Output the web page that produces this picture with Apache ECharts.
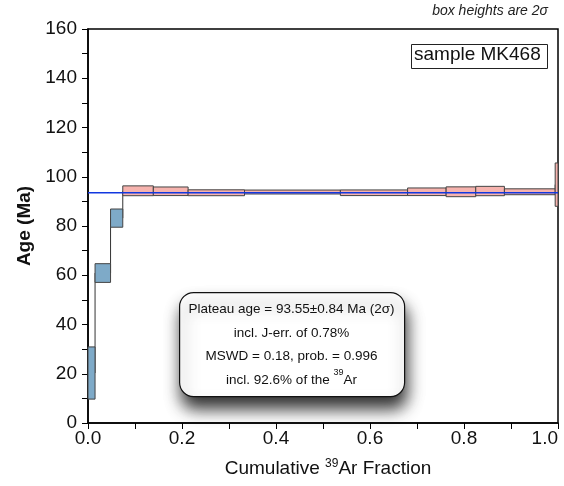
<!DOCTYPE html>
<html>
<head>
<meta charset="utf-8">
<script src="https://cdn.jsdelivr.net/npm/echarts@6/dist/echarts.min.js"></script>
<style>html,body{margin:0;padding:0;background:#fff}#c{width:564px;height:486px}</style>
</head>
<body>
<div id="c"></div>
<script>
// Step boundaries (cumulative 39Ar fraction)
const cumFrac = [0, 0.015, 0.048, 0.074, 0.139, 0.213, 0.333, 0.537, 0.680, 0.762, 0.825, 0.886, 0.994, 1.0];
// Step apparent ages (Ma)
const ages = [20.3, 60.9, 83.2, 94.3, 94.1, 93.5, 93.8, 93.5, 93.9, 93.9, 94.2, 93.9, 96.8];
// 2-sigma errors (Ma)
const err2s = [10.6, 3.8, 3.7, 2.0, 1.75, 1.2, 0.8, 1.15, 1.55, 2.0, 1.9, 1.2, 8.8];
// plateau membership
const inPlateau = [false, false, false, true, true, true, true, true, true, true, true, true, true];
const plateauAge = 93.55;
const xTicks = [0, 0.2, 0.4, 0.6, 0.8, 1.0];
const yTicks = [0, 20, 40, 60, 80, 100, 120, 140, 160];

const FONT = 'Liberation Sans, Arial, sans-serif';
const boxData = ages.map((a, i) => [cumFrac[i], cumFrac[i + 1], a, err2s[i], inPlateau[i] ? 1 : 0]);
const connData = [];
for (let i = 1; i < ages.length; i++) connData.push([cumFrac[i], ages[i - 1], ages[i]]);

const chart = echarts.init(document.getElementById('c'), null, {renderer: 'canvas'});
chart.setOption({
  animation: false,
  backgroundColor: '#fff',
  grid: {left: 88, right: 6, top: 29, bottom: 63, show: true, borderColor: '#000', borderWidth: 1.5,
    backgroundColor: 'transparent', containLabel: false, outerBoundsMode: 'none'},
  xAxis: {
    type: 'value', min: 0, max: 1, interval: 0.1,
    axisLine: {show: true, onZero: false, lineStyle: {color: '#000', width: 1.5}},
    axisTick: {show: true, length: 6, lineStyle: {color: '#000', width: 1}},
    splitLine: {show: false},
    axisLabel: {
      margin: 6, fontSize: 19, color: '#111', fontFamily: FONT, alignMaxLabel: 'right',
      formatter: v => { const r = Math.round(v * 10) / 10; return xTicks.some(t => Math.abs(t - r) < 1e-6) ? r.toFixed(1) : ''; }
    },
    name: '{a|Cumulative }{s|39}{a|Ar Fraction}',
    nameLocation: 'middle', nameGap: 35,
    nameTextStyle: {padding: [0, 0, 0, 10], rich: {
      a: {fontSize: 19, fontFamily: FONT, color: '#111', lineHeight: 22},
      s: {fontSize: 12, fontFamily: FONT, color: '#111', lineHeight: 12, verticalAlign: 'top'}
    }}
  },
  yAxis: {
    type: 'value', min: 0, max: 160, interval: 10,
    axisLine: {show: true, onZero: false, lineStyle: {color: '#000', width: 1.5}},
    axisTick: {show: true, length: 6, lineStyle: {color: '#000', width: 1}},
    splitLine: {show: false},
    axisLabel: {
      margin: 11, fontSize: 19, color: '#111', fontFamily: FONT,
      formatter: v => yTicks.indexOf(Math.round(v)) >= 0 ? String(Math.round(v)) : ''
    },
    name: 'Age (Ma)', nameLocation: 'middle', nameGap: 54, nameRotate: 90,
    nameTextStyle: {fontSize: 19, fontWeight: 'bold', fontFamily: FONT, color: '#111'}
  },
  series: [
    {
      type: 'custom', z: 1, data: connData,
      renderItem: (params, api) => {
        const p1 = api.coord([api.value(0), api.value(1)]);
        const p2 = api.coord([api.value(0), api.value(2)]);
        return {type: 'line', shape: {x1: p1[0], y1: p1[1], x2: p2[0], y2: p2[1]}, style: {stroke: '#333', lineWidth: 1}};
      }
    },
    {
      type: 'custom', z: 2, data: boxData,
      renderItem: (params, api) => {
        const a = api.value(2), e = api.value(3);
        const p1 = api.coord([api.value(0), a + e]);
        const p2 = api.coord([api.value(1), a - e]);
        const pl = api.value(4) === 1;
        return {type: 'rect', shape: {x: p1[0], y: p1[1], width: p2[0] - p1[0], height: p2[1] - p1[1]},
          style: {fill: pl ? '#f6b3ae' : '#7eaac8', stroke: '#444', lineWidth: 1}};
      }
    },
    {
      type: 'line', z: 3, symbol: 'none', silent: true,
      data: [[0, plateauAge], [1, plateauAge]],
      lineStyle: {color: '#1238e0', width: 1.5}
    }
  ],
  graphic: [
    {type: 'text', right: 16, top: 4, style: {text: 'box heights are 2σ', font: 'italic 14px ' + FONT, fill: '#222'}},
    {type: 'rect', left: 411, top: 44, shape: {width: 136, height: 24}, style: {fill: '#fff', stroke: '#222', lineWidth: 1}},
    {type: 'text', left: 414, top: 45, style: {text: 'sample MK468', font: '19px ' + FONT, fill: '#111'}},
    {type: 'rect', left: 179, top: 292, shape: {width: 225, height: 104, r: 14},
      style: {fill: '#fff', stroke: '#111', lineWidth: 1.2, shadowBlur: 16, shadowOffsetY: 12, shadowOffsetX: 2, shadowColor: 'rgba(0,0,0,0.8)'}},
    {type: 'text', x: 291.5, y: 345, style: {
      text: 'Plateau age = 93.55±0.84 Ma (2σ)\nincl. J-err. of 0.78%\nMSWD = 0.18, prob. = 0.996\n{a|incl. 92.6% of the }{s|39}{a|Ar}',
      align: 'center', verticalAlign: 'middle', font: '13.5px ' + FONT, fill: '#111', lineHeight: 23.5,
      rich: {
        a: {fontSize: 13.5, fontFamily: FONT, fill: '#111', lineHeight: 23.5},
        s: {fontSize: 9, fontFamily: FONT, fill: '#111', lineHeight: 14, verticalAlign: 'top'}
      }
    }}
  ]
});
</script>
</body>
</html>
